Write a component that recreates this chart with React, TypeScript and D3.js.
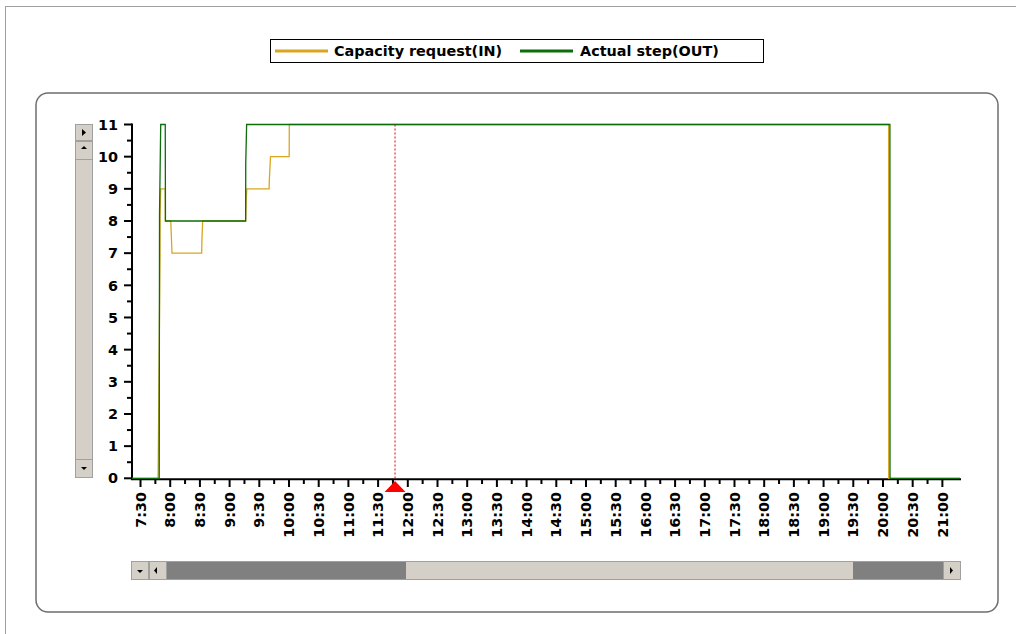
import React from "react";
import * as d3 from "d3";

// time in minutes since midnight
const inTimes = [441.4, 467.7, 467.9, 469.7, 469.8, 470.4, 475.0, 475.1, 480.5, 480.7, 481.8, 511.8, 512.0, 512.8, 556.2, 556.7, 557.4, 579.9, 580.1, 581.3, 600.2, 600.3, 1205.7, 1205.8, 1277.8];
const inValues = [0, 0, 0.4, 7.0, 8.24, 9, 9, 8, 8, 7.9, 7.0, 7.0, 7.37, 8, 8, 8.6, 9, 9, 9.26, 10, 10, 11, 11, 0, 0];

const outTimes = [441.4, 468.9, 469.2, 470.4, 475.0, 475.2, 556.2, 556.3, 557.2, 1207.0, 1207.1, 1277.8];
const outValues = [0, 0, 8.2, 11, 11, 8, 8, 9.8, 11, 11, 0, 0];

const timeDomain = [441.4, 1277.8];
const yDomain = [0, 11];
const yTicks = d3.range(0, 12);
const yMinorTicks = d3.range(0.5, 11, 1);
const xTicks = d3.range(450, 1261, 15);
const cursorTime = 707.1;

const seriesNames = ["Capacity request(IN)", "Actual step(OUT)"];
const seriesColors = ["#DAA520", "#0B6E0B"];

const fmt = (m: number) => `${Math.floor(m / 60)}:${String(m % 60).padStart(2, "0")}`;

export default function App() {
  const x = d3.scaleLinear().domain(timeDomain).range([132, 960]);
  const y = d3.scaleLinear().domain(yDomain).range([478.3, 124.5]);
  const line = d3
    .line<[number, number]>()
    .x((d) => x(d[0]))
    .y((d) => y(d[1]));
  const inPts = inTimes.map((t, i) => [t, inValues[i]] as [number, number]);
  const outPts = outTimes.map((t, i) => [t, outValues[i]] as [number, number]);
  const font = "'DejaVu Sans', Verdana, sans-serif";
  const gray = "#d4d0c8";
  const dark = "#808080";
  const cx = x(cursorTime);
  const fs = 14.4;

  return (
    <svg width={1016} height={634} style={{ position: "absolute", left: 0, top: 0 }} fontFamily={font}>
      <rect x={0} y={0} width={1016} height={634} fill="#fff" />
      <rect x={5.5} y={6.5} width={1030} height={660} fill="none" stroke="#a0a0a0" strokeWidth={1} />
      <rect x={36} y={93} width={962} height={519} rx={12} fill="none" stroke="#6e6e6e" strokeWidth={1.5} />

      {/* Legend */}
      <rect x={270.5} y={39.5} width={493} height={23} fill="#fff" stroke="#000" strokeWidth={1} />
      <line x1={275} x2={328} y1={51} y2={51} stroke={seriesColors[0]} strokeWidth={3} />
      <text x={334} y={56} fontSize={fs} fontWeight="bold" fill="#000">{seriesNames[0]}</text>
      <line x1={520} x2={573} y1={51} y2={51} stroke={seriesColors[1]} strokeWidth={3} />
      <text x={580} y={56} fontSize={fs} fontWeight="bold" fill="#000">{seriesNames[1]}</text>

      {/* Left scrollbar */}
      <rect x={75.5} y={124.5} width={17} height={353} fill={gray} stroke="#a0a0a0" />
      <rect x={75.5} y={124.5} width={17} height={16} fill={gray} stroke="#a0a0a0" />
      <path d="M82,129 L86,132.5 L82,136 Z" fill="#000" />
      <rect x={75.5} y={141.5} width={17} height={18} fill={gray} stroke="#a0a0a0" />
      <path d="M81,149 L84,146 L87,149 Z" fill="#000" />
      <rect x={75.5} y={459.5} width={17} height={18} fill={gray} stroke="#a0a0a0" />
      <path d="M81,467 L84,470 L87,467 Z" fill="#000" />

      {/* Bottom scrollbar */}
      <rect x={131.5} y={561.5} width={829} height={18} fill={dark} stroke="#a0a0a0" />
      <rect x={406} y={562} width={447} height={17} fill={gray} />
      <rect x={131.5} y={561.5} width={17} height={18} fill={gray} stroke="#a0a0a0" />
      <path d="M137,570 L140,573 L143,570 Z" fill="#000" />
      <rect x={149.5} y={561.5} width={17} height={18} fill={gray} stroke="#a0a0a0" />
      <path d="M157,567 L154,570.5 L157,574 Z" fill="#000" />
      <rect x={943.5} y={561.5} width={17} height={18} fill={gray} stroke="#a0a0a0" />
      <path d="M950,567 L953,570.5 L950,574 Z" fill="#000" />

      {/* Y axis */}
      <line x1={132} x2={132} y1={y(11) - 1} y2={479 + 1} stroke="#000" strokeWidth={2} />
      {yTicks.map((v) => (
        <g key={v}>
          <line x1={124} x2={132} y1={y(v)} y2={y(v)} stroke="#000" strokeWidth={2} />
          <text x={118} y={y(v)} dy="0.36em" textAnchor="end" fontSize={fs} fontWeight="bold" fill="#000">
            {v}
          </text>
        </g>
      ))}
      {yMinorTicks.map((v) => (
        <line key={v} x1={127} x2={132} y1={y(v)} y2={y(v)} stroke="#000" strokeWidth={2} />
      ))}

      {/* X axis */}
      <line x1={131} x2={961} y1={479.3} y2={479.3} stroke="#000" strokeWidth={2} />
      {xTicks.map((t) => {
        const major = t % 30 === 0;
        const px = x(t);
        return (
          <g key={t}>
            <line x1={px} x2={px} y1={479} y2={major ? 487 : 484} stroke="#000" strokeWidth={2} />
            {major && (
              <text
                transform={`translate(${px},492) rotate(-90)`}
                dy="0.36em"
                textAnchor="end"
                fontSize={fs}
                fontWeight="bold"
                fill="#000"
              >
                {fmt(t)}
              </text>
            )}
          </g>
        );
      })}

      {/* Series */}
      <path d={line(inPts) || ""} fill="none" stroke={seriesColors[0]} strokeWidth={1.3} />
      <path d={line(outPts) || ""} fill="none" stroke={seriesColors[1]} strokeWidth={1.3} />

      {/* Cursor */}
      <line x1={cx} x2={cx} y1={y(11)} y2={y(0)} stroke="#e00000" strokeWidth={1} strokeDasharray="2,2" />
      <path d={`M${cx},481 L${cx - 10.5},492 L${cx + 10.5},492 Z`} fill="#ff0000" />
    </svg>
  );
}
